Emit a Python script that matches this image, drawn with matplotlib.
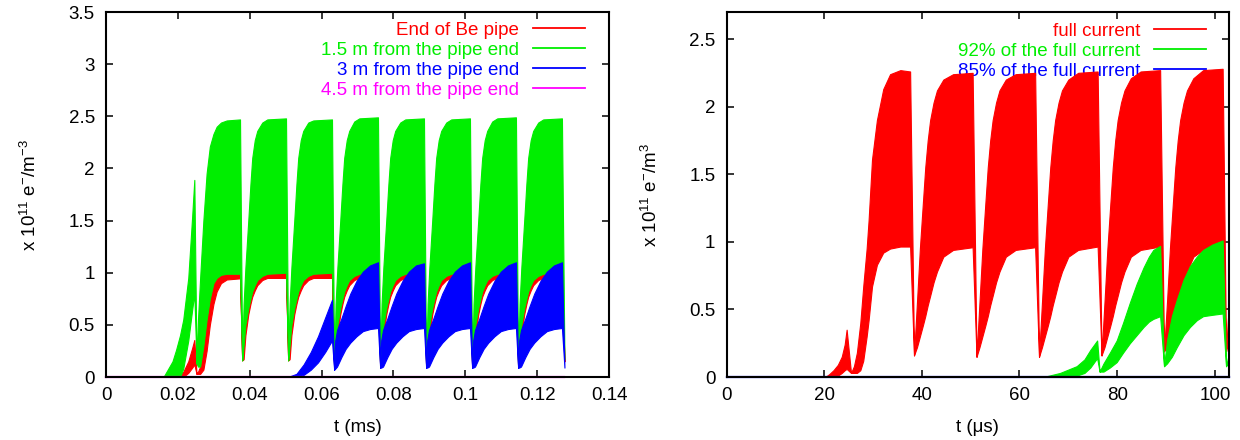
import matplotlib
matplotlib.use("Agg")
import matplotlib.pyplot as plt
from matplotlib.lines import Line2D

plt.rcParams['font.family'] = ['Liberation Sans', 'DejaVu Sans']
plt.rcParams['mathtext.default'] = 'regular'

RED = '#ff0000'
GREEN = '#00ee00'
BLUE = '#0000ff'
MAGENTA = '#ff00ff'

# ---------------- left panel data (t in ms) ----------------
left_labels = ['End of Be pipe', '1.5 m from the pipe end',
               '3 m from the pipe end', '4.5 m from the pipe end']
left_xticks = [0, 0.02, 0.04, 0.06, 0.08, 0.1, 0.12, 0.14]
left_xticklabels = ['0', '0.02', '0.04', '0.06', '0.08', '0.1', '0.12', '0.14']
left_yticks = [0, 0.5, 1, 1.5, 2, 2.5, 3, 3.5]
left_yticklabels = ['0', '0.5', '1', '1.5', '2', '2.5', '3', '3.5']

# time grid shared by red and green (left); one line per bunch train
rg_l_t = [0.0, 0.0160, 0.0185, 0.0195, 0.0206, 0.0215, 0.0229, 0.0240, 0.02458,
          0.0252, 0.0256, 0.0262, 0.0271, 0.0280, 0.0289, 0.0299, 0.0308, 0.0320, 0.0336, 0.0373,
          0.0379, 0.0383, 0.0388, 0.0396, 0.0402, 0.0407, 0.0414, 0.0421, 0.0435, 0.0449, 0.0501,
          0.0507, 0.0511, 0.0516, 0.0524, 0.0530, 0.0535, 0.0542, 0.0549, 0.0563, 0.0577, 0.0629,
          0.0635, 0.0639, 0.0644, 0.0652, 0.0658, 0.0663, 0.0670, 0.0677, 0.0691, 0.0705, 0.0757,
          0.0763, 0.0767, 0.0772, 0.0780, 0.0786, 0.0791, 0.0798, 0.0805, 0.0819, 0.0833, 0.0885,
          0.0891, 0.0895, 0.0900, 0.0908, 0.0914, 0.0919, 0.0926, 0.0933, 0.0947, 0.0961, 0.1013,
          0.1019, 0.1023, 0.1028, 0.1036, 0.1042, 0.1047, 0.1054, 0.1061, 0.1075, 0.1089, 0.1141,
          0.1147, 0.1151, 0.1156, 0.1164, 0.1170, 0.1175, 0.1182, 0.1189, 0.1203, 0.1217, 0.1269,
          0.1276]

# red: End of Be pipe
red_l_lo = [0, 0, 0, 0, 0, 0, 0.04, 0.09, 0.12,
            0.03, 0.03, 0.03, 0.07, 0.25, 0.50, 0.70, 0.82, 0.90, 0.935, 0.946,
            0.16, 0.17, 0.40, 0.60, 0.70, 0.77, 0.83, 0.88, 0.93, 0.95, 0.95,
            0.16, 0.17, 0.40, 0.60, 0.70, 0.77, 0.83, 0.88, 0.93, 0.95, 0.95,
            0.08, 0.12, 0.40, 0.60, 0.70, 0.77, 0.83, 0.88, 0.93, 0.95, 0.95,
            0.10, 0.12, 0.40, 0.60, 0.70, 0.77, 0.83, 0.88, 0.93, 0.95, 0.95,
            0.10, 0.12, 0.40, 0.60, 0.70, 0.77, 0.83, 0.88, 0.93, 0.95, 0.95,
            0.10, 0.12, 0.40, 0.60, 0.70, 0.77, 0.83, 0.88, 0.93, 0.95, 0.95,
            0.10, 0.12, 0.40, 0.60, 0.70, 0.77, 0.83, 0.88, 0.93, 0.95, 0.95,
            0.15]
red_l_hi = [0, 0, 0, 0, 0.02, 0.05, 0.15, 0.28, 0.355,
            0.03, 0.05, 0.10, 0.30, 0.55, 0.75, 0.90, 0.95, 0.98, 0.99, 0.99,
            0.16, 0.30, 0.50, 0.66, 0.75, 0.82, 0.88, 0.93, 0.97, 0.99, 1.00,
            0.16, 0.30, 0.50, 0.66, 0.75, 0.82, 0.88, 0.93, 0.97, 0.99, 1.00,
            0.08, 0.30, 0.50, 0.66, 0.75, 0.82, 0.88, 0.93, 0.97, 0.99, 1.00,
            0.10, 0.30, 0.50, 0.66, 0.75, 0.82, 0.88, 0.93, 0.97, 0.99, 1.00,
            0.10, 0.30, 0.50, 0.66, 0.75, 0.82, 0.88, 0.93, 0.97, 0.99, 1.00,
            0.10, 0.30, 0.50, 0.66, 0.75, 0.82, 0.88, 0.93, 0.97, 0.99, 1.00,
            0.10, 0.30, 0.50, 0.66, 0.75, 0.82, 0.88, 0.93, 0.97, 0.99, 1.00,
            0.15]

# green: 1.5 m from the pipe end
green_l_lo = [0, 0, 0, 0, 0, 0.08, 0.35, 0.65, 0.80,
              0.13, 0.10, 0.10, 0.30, 0.55, 0.75, 0.90, 0.95, 0.98, 0.99, 0.99,
              0.16, 0.30, 0.50, 0.66, 0.75, 0.82, 0.88, 0.93, 0.97, 0.99, 1.00,
              0.16, 0.30, 0.50, 0.66, 0.75, 0.82, 0.88, 0.93, 0.97, 0.99, 1.00,
              0.08, 0.30, 0.50, 0.66, 0.75, 0.82, 0.88, 0.93, 0.97, 0.99, 1.00,
              0.10, 0.30, 0.50, 0.66, 0.75, 0.82, 0.88, 0.93, 0.97, 0.99, 1.00,
              0.10, 0.30, 0.50, 0.66, 0.75, 0.82, 0.88, 0.93, 0.97, 0.99, 1.00,
              0.10, 0.30, 0.50, 0.66, 0.75, 0.82, 0.88, 0.93, 0.97, 0.99, 1.00,
              0.10, 0.30, 0.50, 0.66, 0.75, 0.82, 0.88, 0.93, 0.97, 0.99, 1.00,
              0.17]
green_l_hi = [0, 0, 0.15, 0.26, 0.40, 0.55, 0.95, 1.55, 1.89,
              0.13, 0.55, 0.95, 1.50, 1.95, 2.21, 2.33, 2.40, 2.44, 2.46, 2.47,
              0.16, 0.70, 1.05, 1.50, 1.85, 2.10, 2.27, 2.36, 2.44, 2.47, 2.48,
              0.16, 0.70, 1.05, 1.50, 1.85, 2.10, 2.27, 2.36, 2.44, 2.46, 2.47,
              0.08, 0.70, 1.05, 1.50, 1.85, 2.10, 2.27, 2.36, 2.45, 2.48, 2.49,
              0.10, 0.70, 1.05, 1.50, 1.85, 2.10, 2.27, 2.36, 2.44, 2.47, 2.48,
              0.10, 0.70, 1.05, 1.50, 1.85, 2.10, 2.27, 2.36, 2.44, 2.47, 2.48,
              0.10, 0.70, 1.05, 1.50, 1.85, 2.10, 2.27, 2.36, 2.45, 2.48, 2.49,
              0.10, 0.70, 1.05, 1.50, 1.85, 2.10, 2.27, 2.36, 2.44, 2.47, 2.48,
              0.17]

# blue: 3 m from the pipe end
blue_l_t = [0.0, 0.0490, 0.0510, 0.0530, 0.0550, 0.0570, 0.0590, 0.0610, 0.0629,
            0.0635, 0.0638, 0.0643, 0.0655, 0.0667, 0.0680, 0.0697, 0.0715, 0.0735, 0.0757,
            0.0763, 0.0766, 0.0771, 0.0783, 0.0795, 0.0808, 0.0825, 0.0843, 0.0863, 0.0885,
            0.0891, 0.0894, 0.0899, 0.0911, 0.0923, 0.0936, 0.0953, 0.0971, 0.0991, 0.1013,
            0.1019, 0.1022, 0.1027, 0.1039, 0.1051, 0.1064, 0.1081, 0.1099, 0.1119, 0.1141,
            0.1147, 0.1150, 0.1155, 0.1167, 0.1179, 0.1192, 0.1209, 0.1227, 0.1247, 0.1269,
            0.1276]
blue_l_lo = [0, 0, 0, 0, 0.02, 0.07, 0.14, 0.24, 0.35,
             0.07, 0.08, 0.10, 0.19, 0.27, 0.33, 0.39, 0.44, 0.46, 0.47,
             0.09, 0.09, 0.10, 0.19, 0.27, 0.33, 0.39, 0.44, 0.46, 0.47,
             0.09, 0.09, 0.10, 0.19, 0.27, 0.33, 0.39, 0.44, 0.46, 0.47,
             0.09, 0.09, 0.10, 0.19, 0.27, 0.33, 0.39, 0.44, 0.46, 0.47,
             0.09, 0.09, 0.10, 0.19, 0.27, 0.33, 0.39, 0.44, 0.46, 0.47,
             0.09]
blue_l_hi = [0, 0, 0.005, 0.03, 0.12, 0.24, 0.39, 0.57, 0.74,
             0.07, 0.35, 0.45, 0.56, 0.68, 0.80, 0.92, 1.01, 1.07, 1.10,
             0.09, 0.35, 0.45, 0.56, 0.68, 0.80, 0.92, 1.01, 1.07, 1.09,
             0.09, 0.35, 0.45, 0.56, 0.68, 0.80, 0.92, 1.01, 1.07, 1.10,
             0.09, 0.35, 0.45, 0.56, 0.68, 0.80, 0.92, 1.01, 1.07, 1.10,
             0.09, 0.35, 0.45, 0.56, 0.68, 0.80, 0.92, 1.01, 1.07, 1.10,
             0.09]

# magenta: 4.5 m from the pipe end (stays at zero)
mag_l_t = [0.0, 0.1275]
mag_l_y = [0.0, 0.0]

# ---------------- right panel data (t in microseconds) ----------------
right_labels = ['full current', '92% of the full current', '85% of the full current']
right_xticks = [0, 20, 40, 60, 80, 100]
right_xticklabels = ['0', '20', '40', '60', '80', '100']
right_yticks = [0, 0.5, 1, 1.5, 2, 2.5]
right_yticklabels = ['0', '0.5', '1', '1.5', '2', '2.5']

red_r_t = [0, 20.2, 21.0, 21.9, 22.8, 23.6, 24.2, 24.6,
           25.5, 26.1, 26.7, 27.4, 28.0, 28.7, 29.1, 29.8, 30.8, 32.1, 33.5, 35.6, 37.6,
           38.4, 39.0, 39.6, 40.2, 40.7, 41.2, 41.7, 42.4, 43.1, 44.4, 46.4, 50.4,
           51.2, 51.8, 52.4, 53.0, 53.5, 54.0, 54.5, 55.2, 55.9, 57.2, 59.2, 63.2,
           64.0, 64.6, 65.2, 65.8, 66.3, 66.8, 67.3, 68.0, 68.7, 70.0, 72.0, 76.0,
           76.8, 77.4, 78.0, 78.6, 79.1, 79.6, 80.1, 80.8, 81.5, 82.8, 84.8, 88.8,
           89.6, 90.2, 90.8, 91.4, 91.9, 92.4, 92.9, 93.6, 94.3, 95.6, 97.6, 101.6,
           102.3, 102.8]
red_r_lo = [0, 0, 0, 0, 0.01, 0.03, 0.05, 0.06,
            0.03, 0.03, 0.03, 0.05, 0.12, 0.30, 0.42, 0.67, 0.83, 0.92, 0.95, 0.965, 0.965,
            0.16, 0.22, 0.30, 0.38, 0.45, 0.53, 0.60, 0.70, 0.78, 0.89, 0.94, 0.96,
            0.15, 0.22, 0.30, 0.38, 0.45, 0.53, 0.60, 0.70, 0.78, 0.89, 0.94, 0.96,
            0.15, 0.22, 0.30, 0.38, 0.45, 0.53, 0.60, 0.70, 0.78, 0.89, 0.94, 0.965,
            0.16, 0.22, 0.30, 0.38, 0.45, 0.53, 0.60, 0.70, 0.78, 0.89, 0.94, 0.965,
            0.19, 0.23, 0.31, 0.38, 0.45, 0.53, 0.60, 0.70, 0.78, 0.89, 0.94, 0.97,
            0.19, 0.30]
red_r_hi = [0, 0, 0.02, 0.05, 0.09, 0.15, 0.24, 0.35,
            0.03, 0.08, 0.18, 0.40, 0.67, 0.95, 1.16, 1.61, 1.90, 2.13, 2.24, 2.27, 2.26,
            0.16, 0.55, 0.95, 1.28, 1.55, 1.75, 1.90, 2.03, 2.12, 2.20, 2.24, 2.25,
            0.15, 0.55, 0.95, 1.28, 1.55, 1.75, 1.90, 2.03, 2.12, 2.20, 2.24, 2.25,
            0.15, 0.55, 0.95, 1.28, 1.55, 1.75, 1.90, 2.03, 2.12, 2.20, 2.25, 2.26,
            0.16, 0.55, 0.95, 1.28, 1.55, 1.75, 1.90, 2.03, 2.12, 2.21, 2.26, 2.27,
            0.19, 0.55, 0.95, 1.28, 1.55, 1.75, 1.90, 2.03, 2.12, 2.21, 2.27, 2.28,
            0.19, 0.50]

green_r_t = [0, 64.9, 68.3, 71.7, 73.3, 74.5, 75.9,
             76.4, 77.2, 78.5, 79.9, 81.2, 82.6, 84.0, 85.4, 86.5, 87.4, 88.8,
             89.6, 90.2, 91.2, 92.2, 93.6, 94.9, 96.3, 97.6, 99.5, 101.6,
             102.3, 102.8]
green_r_lo = [0, 0, 0, 0.01, 0.03, 0.07, 0.14,
              0.04, 0.04, 0.07, 0.11, 0.18, 0.25, 0.31, 0.37, 0.41, 0.43, 0.45,
              0.08, 0.10, 0.15, 0.22, 0.31, 0.37, 0.42, 0.45, 0.46, 0.47,
              0.08, 0.12]
green_r_hi = [0, 0, 0.03, 0.08, 0.13, 0.20, 0.27,
              0.04, 0.10, 0.18, 0.27, 0.40, 0.55, 0.69, 0.81, 0.89, 0.94, 0.97,
              0.08, 0.27, 0.45, 0.57, 0.72, 0.82, 0.89, 0.94, 0.98, 1.01,
              0.08, 0.16]

blue_r_t = [0, 102.8]
blue_r_y = [0.0, 0.0]

# ---------------- figure ----------------
fig = plt.figure(figsize=(12.4, 4.4), dpi=100)
axL = fig.add_axes([106 / 1240, 63 / 440, 503 / 1240, 365 / 440])
axR = fig.add_axes([726.5 / 1240, 63 / 440, 502 / 1240, 365 / 440])

FS = 13.5


def style(ax, xlim, ylim, xt, xtl, yt, ytl):
    ax.set_xlim(*xlim)
    ax.set_ylim(*ylim)
    ax.set_xticks(xt)
    ax.set_xticklabels(xtl)
    ax.set_yticks(yt)
    ax.set_yticklabels(ytl)
    ax.tick_params(direction='in', length=5, width=1.1, top=True, right=True,
                   labelsize=FS, colors='black')
    ax.tick_params(axis='x', pad=7)
    ax.tick_params(axis='y', pad=8)
    for s in ax.spines.values():
        s.set_linewidth(1.5)
        s.set_color('black')


# left panel
axL.fill_between(rg_l_t, red_l_lo, red_l_hi, color=RED, lw=0.8, zorder=2)
axL.fill_between(rg_l_t, green_l_lo, green_l_hi, color=GREEN, lw=0.8, zorder=2.1)
axL.fill_between(blue_l_t, blue_l_lo, blue_l_hi, color=BLUE, lw=0.8, zorder=2.2)
axL.plot(mag_l_t, mag_l_y, color=MAGENTA, lw=1.6, zorder=2.3, clip_on=False)
style(axL, (0, 0.14), (0, 3.5), left_xticks, left_xticklabels, left_yticks, left_yticklabels)
axL.set_xlabel('t (ms)', fontsize=FS)
axL.set_ylabel(r'x 10$^{11}$ e$^{-}$/m$^{-3}$', fontsize=FS)
axL.xaxis.set_label_coords(0.5, -50 / 365)
axL.xaxis.label.set_va('center')
axL.yaxis.set_label_coords(-76 / 503, 0.5)
axL.yaxis.label.set_va('center')

hL = [Line2D([], [], color=c, lw=1.3) for c in (RED, GREEN, BLUE, MAGENTA)]
legL = axL.legend(hL, left_labels, loc='upper right', bbox_to_anchor=(1 - 24 / 503, 1 - 9.5 / 365),
                  frameon=False, markerfirst=False, fontsize=FS, handlelength=2.8,
                  handletextpad=0.7, labelspacing=0.16, borderpad=0, borderaxespad=0)
for t, c in zip(legL.get_texts(), (RED, GREEN, BLUE, MAGENTA)):
    t.set_color(c)

# right panel
axR.fill_between(red_r_t, red_r_lo, red_r_hi, color=RED, lw=0.8, zorder=2)
axR.fill_between(green_r_t, green_r_lo, green_r_hi, color=GREEN, lw=0.8, zorder=2.1)
axR.plot(blue_r_t, blue_r_y, color=BLUE, lw=1.6, zorder=2.3, clip_on=False)
style(axR, (0, 102.8), (0, 2.7), right_xticks, right_xticklabels, right_yticks, right_yticklabels)
axR.set_xlabel('t (\u03bcs)', fontsize=FS)
axR.set_ylabel(r'x 10$^{11}$ e$^{-}$/m$^{3}$', fontsize=FS)
axR.xaxis.set_label_coords(0.5, -50 / 365)
axR.xaxis.label.set_va('center')
axR.yaxis.set_label_coords(-76 / 502, 0.5)
axR.yaxis.label.set_va('center')

hR = [Line2D([], [], color=c, lw=1.3) for c in (RED, GREEN, BLUE)]
legR = axR.legend(hR, right_labels, loc='upper right', bbox_to_anchor=(1 - 22.5 / 502, 1 - 10.5 / 365),
                  frameon=False, markerfirst=False, fontsize=FS, handlelength=2.8,
                  handletextpad=0.7, labelspacing=0.16, borderpad=0, borderaxespad=0)
legR.set_zorder(1)
for t, c in zip(legR.get_texts(), (RED, GREEN, BLUE)):
    t.set_color(c)

fig.savefig('out.png', dpi=100)
